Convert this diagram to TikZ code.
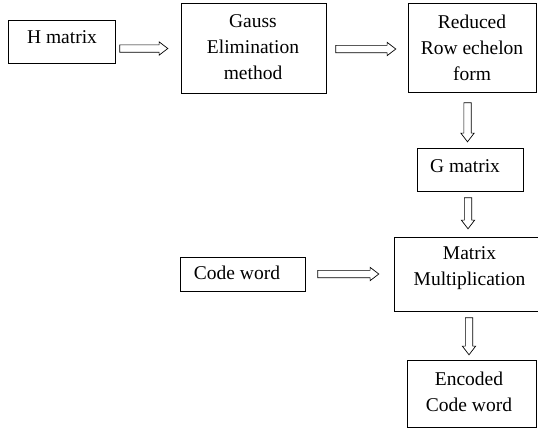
\documentclass[tikz,border=0pt]{standalone}
\usepackage{fontspec}
\setmainfont{Liberation Serif}
\usetikzlibrary{shapes.arrows,calc}
\begin{document}
\begin{tikzpicture}[x=1pt,y=-1pt,
 box/.style={draw, line width=0.9pt, inner sep=0pt},
 lbl/.style={align=center, inner sep=0pt, font=\fontsize{19.5}{26}\selectfont},
 blockarrow/.style={draw, line width=0.7pt, single arrow, inner sep=3.3pt, minimum width=13pt,
   single arrow head extend=3pt, single arrow tip angle=75, anchor=tail},
 downarrow/.style={blockarrow, shape border rotate=270}]
\useasboundingbox (0,0) rectangle (538,429);
\fill[white] (0,0) rectangle (538,429);

% boxes
\node[box, minimum width=106.5pt, minimum height=43pt] (h) at (61.75,41.5) {};
\node[box, minimum width=145pt, minimum height=90pt] (gauss) at (253.5,48.5) {};
\node[box, minimum width=128.5pt, minimum height=89pt] (red) at (472.25,48) {};
\node[box, minimum width=106.5pt, minimum height=43pt] (gm) at (470.25,169.5) {};
\node[box, minimum width=146pt, minimum height=74pt] (mm) at (467,274) {};
\node[box, minimum width=125pt, minimum height=34pt] (cw) at (242.5,274) {};
\node[box, minimum width=129.5pt, minimum height=67pt] (enc) at (471.75,393.5) {};

% labels
\node[lbl] (ht) at (62,37) {H matrix};
\node[lbl] (gausst) at (253,47.5) {Gauss\\Elimination\\method};
\node[lbl] (redt) at (472,47.5) {Reduced\\Row echelon\\form};
\node[lbl] (gmt) at (465,166) {G matrix};
\node[lbl] (cwt) at (237,273) {Code word};
\node[lbl] (mmt) at (469.5,268) {Matrix\\Multiplication};
\node[lbl] (enct) at (469,391.5) {Encoded\\Code word};

% block arrows
\node[blockarrow, minimum height=48pt] (a1) at ($(h.east)+(4,7)$) {};
\node[blockarrow, minimum height=60pt] (a2) at ($(gauss.east)+(9,0.5)$) {};
\node[blockarrow, minimum height=61pt] (a3) at ($(cw.east)+(12,0)$) {};
\node[downarrow, minimum height=39pt] (d1) at ($(red.south)+(-4.75,9.5)$) {};
\node[downarrow, minimum height=31pt] (d2) at ($(gm.south)+(-2.25,6)$) {};
\node[downarrow, minimum height=37pt] (d3) at ($(mm.south)+(2,6)$) {};
\end{tikzpicture}
\end{document}
